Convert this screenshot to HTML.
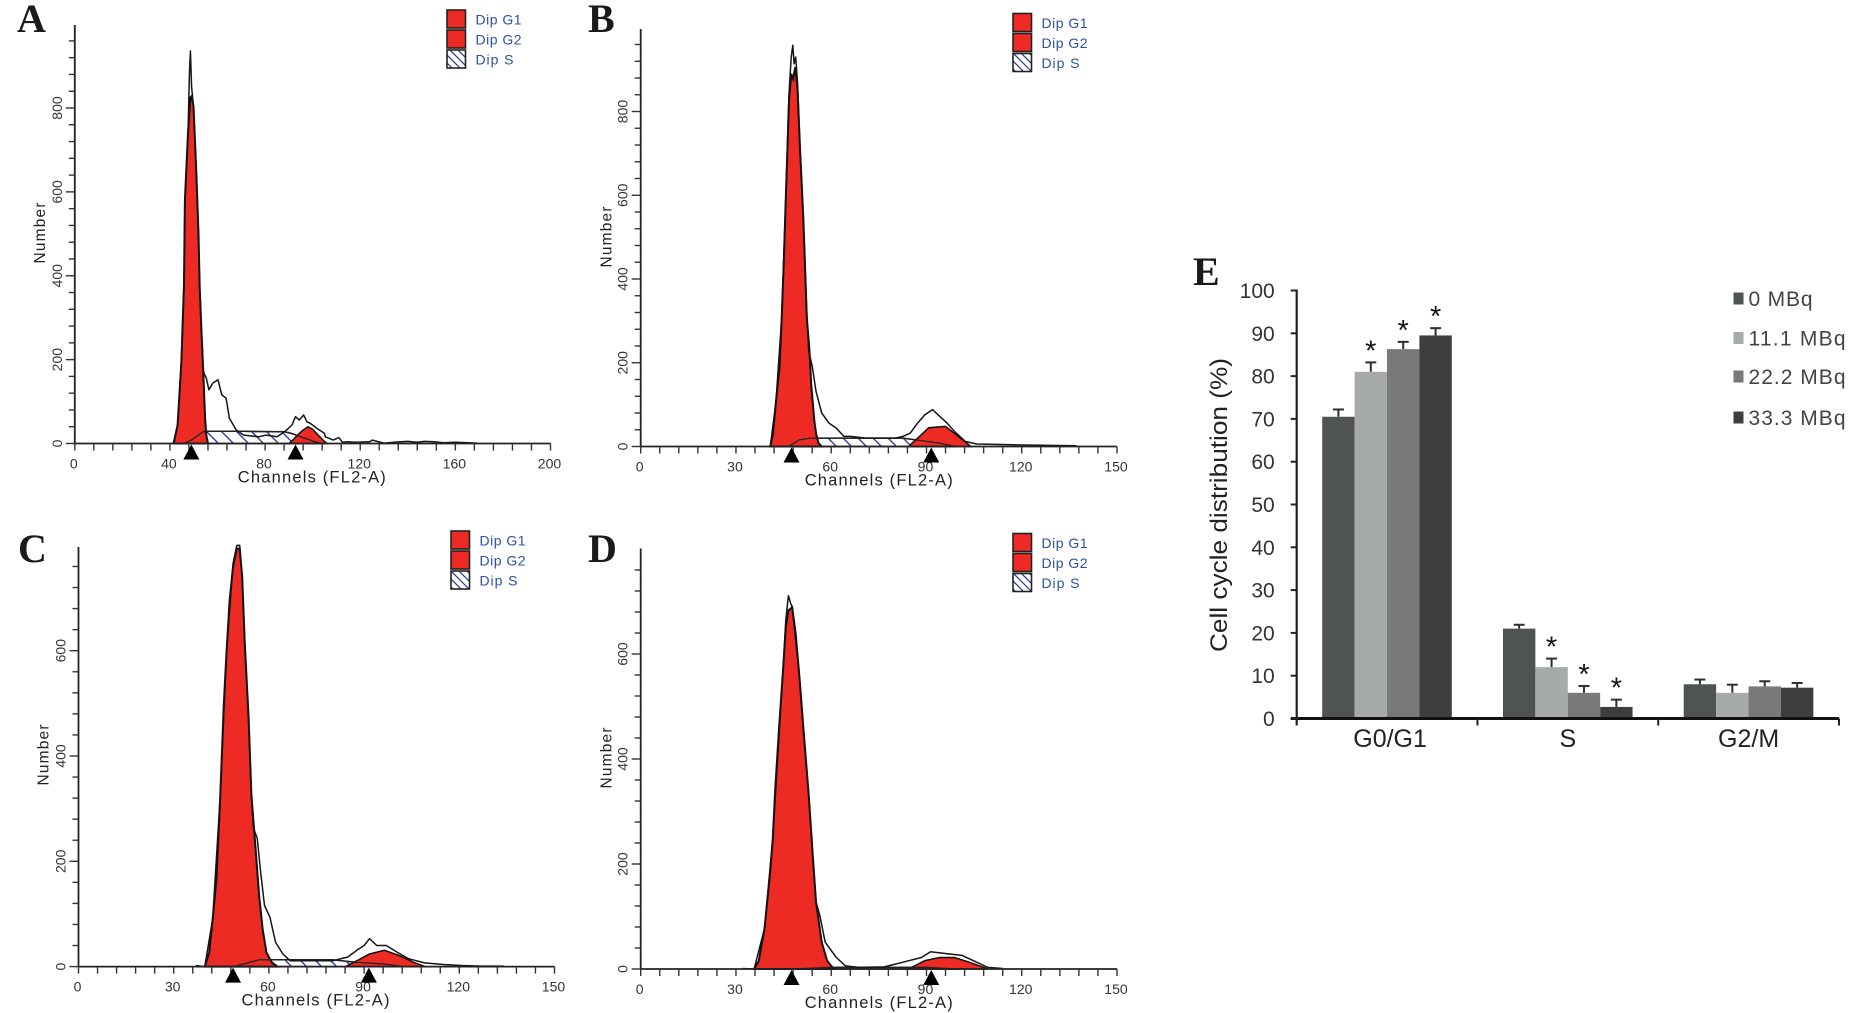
<!DOCTYPE html>
<html lang="en">
<head>
<meta charset="utf-8">
<title>Cell cycle distribution</title>
<style>
html,body{margin:0;padding:0;background:#fff;}
svg{display:block;}
text{font-family:"Liberation Sans",sans-serif;}
.letter{font-family:"Liberation Serif",serif;font-weight:bold;font-size:40px;fill:#1a1a1a;}
</style>
</head>
<body>
<svg id="figure" xmlns="http://www.w3.org/2000/svg" width="1859" height="1013" viewBox="0 0 1859 1013">
<defs>
<pattern id="hatch" patternUnits="userSpaceOnUse" width="15" height="15">
<rect width="15" height="15" fill="#fff"/>
<path d="M-3,-3 L18,18 M-3,12 L3,18 M12,-3 L18,3" stroke="#2c3f9e" stroke-width="1.4" fill="none"/>
</pattern>
<pattern id="hatchKey" patternUnits="userSpaceOnUse" width="8" height="8">
<rect width="8" height="8" fill="#fff"/>
<path d="M-2,-2 L10,10 M-2,6 L2,10 M6,-2 L10,2" stroke="#2c3f9e" stroke-width="1.3" fill="none"/>
</pattern>
</defs>
<text class="letter" x="17" y="32">A</text>
<text class="letter" x="588" y="32">B</text>
<text class="letter" x="18" y="562">C</text>
<text class="letter" x="588" y="562">D</text>
<text class="letter" x="1193" y="285">E</text>
</svg>
<script>
/* Histogram data: channel (x) and event count (y) */
const aG1Channels=[41.4,41.7,43.2,44.8,45.9,46.3,47.6,48.6,49.1,49.9,51,52,52.5,53.3,54.1,54.8,55.3,56];
const aG1Counts=[0,4,44,196,380,580,740,825,828,804,660,500,372,260,156,60,20,0];
const aG2Channels=[90,92,94,96,98,100,102,104,106];
const aG2Counts=[0,10,22,32,40,34,22,10,0];
const aSChannels=[46,49,52,54,55.5,70,88,91,96,101,104];
const aSCounts=[0,8,20,28,29,29,28,24,14,4,0];
const aTotalChannels=[41.4,43.2,44.8,45.9,46.3,47.6,48.2,48.6,49.1,49.9,51,52,52.5,53.3,54.1,55.3,56.4,58,60.2,61.8,63.6,65,67.9,71,77.3,80.4,85,88.2,91.3,92.8,94.4,96.2,97.6,99,101.8,105,105.3,108.7,111,112.5,115,118,124,125,130,137,140,144,147,151,155,160,169];
const aTotalCounts=[0,44,196,380,580,740,880,936,850,804,660,500,372,260,170,156,128,144,152,116,108,60,32,20,16,20,16,28,44,64,56,68,52,48,36,24,16,8,14,3,4,3,4,8,1,4,5,3,5,4,2,3,1];
const bG1Channels=[40.8,41.6,42.6,43.7,44.4,45,45.6,46.2,46.7,47.4,48,48.7,49.4,50.2,51.2,52.3,53.1,53.7,54.7,55.3,56,57];
const bG1Counts=[0,28,108,188,307,427,571,707,826,890,878,906,850,707,547,307,235,148,60,28,8,0];
const bG2Channels=[84.3,87.8,90.7,96,100,104];
const bG2Counts=[0,24,45,48,24,0];
const bSChannels=[46.5,50,53.5,70,82.6,94,99];
const bSCounts=[0,16,20,20,20,8,0];
const bTotalChannels=[40.8,42.6,44.4,45.6,46.7,47.4,47.9,48.3,48.8,49.4,50.2,51.2,52.3,52.9,54,55.2,57,59.3,61.6,64,66,70.9,80.2,82.6,84.9,87.2,89.5,91.9,94.2,96.5,98.8,102.3,105.8,117.4,137.2];
const bTotalCounts=[0,108,307,571,842,930,958,914,930,866,707,547,320,228,192,132,80,56,44,24,24,20,20,24,32,56,76,88,72,56,36,12,6,4,2];
const cG1Channels=[39.8,41.2,42.3,43.5,44.7,45.8,46.6,47.6,48.7,49.9,50.8,51.6,52.4,53.6,54.5,55.7,56.9,58,59.2,60.9,62.7];
const cG1Counts=[0,27,91,167,326,498,593,695,759,794,794,740,613,473,326,231,135,72,27,8,0];
const cG2Channels=[84.2,88.3,91.7,96.4,101,105.7,109.2];
const cG2Counts=[0,13,24,31,21,8,0];
const cSChannels=[48.7,52,56.9,70,80,87.7,96.4,102.5];
const cSCounts=[0,5,13,13,13,8,5,0];
const cTotalChannels=[37,39.8,42.3,44.7,46.6,48.7,49.9,50.8,51.6,52.4,53.6,54.5,55.1,56.3,57.4,58.6,60.3,62.1,64.4,66.7,72,80,84.8,87.7,90,91.7,94,97,100.5,104,109,115,120.8,127,134];
const cTotalCounts=[2,0,91,326,593,765,800,800,740,613,473,326,263,244,180,116,94,46,24,11,11,11,18,31,40,53,40,40,27,15,7,4,2,1,1];
const dG1Channels=[35.7,37.2,39,40.7,41.6,42.4,43.6,44.8,45.7,46.5,47.7,48.8,50,51.2,52.9,54.1,55.2,57,58.7,60.2,61.6];
const dG1Counts=[0,16,77,179,249,345,460,568,651,683,689,638,555,460,332,223,128,51,16,4,0];
const dG2Channels=[84.3,89.5,94.2,98.8,103.5,109.3];
const dG2Counts=[0,16,22,22,13,0];
const dSChannels=[47,60,80,90,100];
const dSCounts=[0,3,3,3,0];
const dTotalChannels=[32,35.7,39,41.6,44.8,45.7,46.5,47.2,47.7,50,52.9,55.2,56.4,58.1,61.6,64.5,68.6,76.7,82.6,88.4,91.3,96.5,101.2,104.7,109.3,114];
const dTotalCounts=[1,0,77,249,568,665,711,697,689,555,332,128,102,51,22,6,3,4,13,22,33,29,26,16,3,1];
/* Axis tick labels */
const aXTicks=[0,40,80,120,160,200];
const sharedXTicks=[0,30,60,90,120,150];
const tallYTicks=[0,200,400,600,800];
const shortYTicks=[0,200,400,600];
/* G1 / G2 mean channels marked by the triangles */
const aPeaks=[49,92.8];
const bPeaks=[47.5,91.5];
const cPeaks=[48.7,91.5];
const dPeaks=[47.5,91.5];
/* Bar chart data */
const barCategories=['G0/G1','S','G2/M'];
const barSeriesNames=['0 MBq','11.1 MBq','22.2 MBq','33.3 MBq'];
const barValues0=[70.5,21,8];
const barValues11=[81,12,6];
const barValues22=[86.3,6,7.5];
const barValues33=[89.5,2.7,7.2];
const barErrors0=[1.7,0.9,1.1];
const barErrors11=[2.2,2,1.9];
const barErrors22=[1.7,1.6,1.2];
const barErrors33=[1.7,1.7,1.1];
const barSignificant11=[1,1,0];
const barSignificant22=[1,1,0];
const barSignificant33=[1,1,0];
const barYTicks=[0,10,20,30,40,50,60,70,80,90,100];

const NS='http://www.w3.org/2000/svg';
const fig=document.getElementById('figure');
function mk(tag,attrs,parent,txt){
  const el=document.createElementNS(NS,tag);
  for(const k in attrs){el.setAttribute(k,attrs[k]);}
  if(txt!==undefined){el.textContent=txt;}
  parent.appendChild(el);
  return el;
}
function areaPath(xs,ys,sx,sy){
  let d='M'+sx(xs[0]).toFixed(1)+','+sy(0).toFixed(1);
  for(let i=0;i<xs.length;i++){d+=' L'+sx(xs[i]).toFixed(1)+','+sy(ys[i]).toFixed(1);}
  d+=' L'+sx(xs[xs.length-1]).toFixed(1)+','+sy(0).toFixed(1)+' Z';
  return d;
}
function linePath(xs,ys,sx,sy){
  let d='';
  for(let i=0;i<xs.length;i++){d+=(i?' L':'M')+sx(xs[i]).toFixed(1)+','+sy(ys[i]).toFixed(1);}
  return d;
}
function drawPanel(key,L,d){
  const g=mk('g',{},fig);
  
  
  const sx=function(c){return L.x0+(c/L.xMax)*(L.x1-L.x0);};
  const sy=function(v){return L.y0-(v/L.yRef)*(L.y0-L.yRefPx);};
  /* S phase hatch */
  const s=mk('path',{d:areaPath(d.sx,d.sy,sx,sy),fill:'url(#hatch)',stroke:'#111','stroke-width':1.5},g);
  
  
  /* G2 */
  const g2=mk('path',{d:areaPath(d.g2x,d.g2y,sx,sy),fill:'#ee2a24',stroke:'#111','stroke-width':1.5},g);
  
  
  /* G1 */
  const g1=mk('path',{d:areaPath(d.g1x,d.g1y,sx,sy),fill:'#ee2a24',stroke:'#111','stroke-width':2},g);
  
  
  /* S curve redrawn over red */
  const sl=mk('path',{d:linePath(d.sx,d.sy,sx,sy),fill:'none',stroke:'#222','stroke-width':1.3},g);
  
  
  /* Histogram outline */
  const t=mk('path',{d:linePath(d.tx,d.ty,sx,sy),fill:'none',stroke:'#151515','stroke-width':1.5,'stroke-linejoin':'round'},g);
  
  
  /* Axes */
  const ax=mk('line',{x1:L.x0,x2:L.x1,y1:L.y0,y2:L.y0,stroke:'#222','stroke-width':1.8},g);
  
  
  const ay=mk('line',{x1:L.x0,x2:L.x0,y1:L.y0+1,y2:L.top,stroke:'#222','stroke-width':1.8},g);
  
  
  const xStep=d.xTicks[1]-d.xTicks[0];
  for(let v=0;v<=L.xMax+0.001;v+=xStep/5){
    const tk=mk('line',{x1:sx(v),x2:sx(v),y1:L.y0,y2:L.y0+7,stroke:'#333','stroke-width':1.4},g);
    
    
  }
  const yStep=d.yTicks[1]-d.yTicks[0];
  for(let v=0;sy(v)>=L.top+4;v+=yStep/5){
    const major=Math.abs(v/yStep-Math.round(v/yStep))<0.001;
    const tk=mk('line',{x1:L.x0-(major?9:6),x2:L.x0,y1:sy(v),y2:sy(v),stroke:'#333','stroke-width':1.4},g);
    
    
  }
  d.xTicks.forEach(function(v){
    const tl=mk('text',{x:sx(v)-1,y:L.y0+25,'text-anchor':'middle','font-size':13.5,fill:'#333',textLength:String(v).length*7.8,lengthAdjust:'spacingAndGlyphs'},g,String(v));
    
    
  });
  d.yTicks.forEach(function(v){
    const px=L.x0-13, py=sy(v);
    const tl=mk('text',{x:px,y:py,'text-anchor':'middle','font-size':13.5,fill:'#333',textLength:String(v).length*7.8,lengthAdjust:'spacingAndGlyphs',transform:'rotate(-90 '+px+' '+py+')'},g,String(v));
    
    
  });
  const xt=mk('text',{x:L.x0+L.xTitleDx,y:L.y0+39,'font-size':16.5,fill:'#222',textLength:148,lengthAdjust:'spacing'},g,'Channels (FL2-A)');
  
  
  const ytx=L.x0+L.yTitleDx, yty=L.yTitleY;
  const yt=mk('text',{x:ytx,y:yty,'text-anchor':'middle','font-size':15.5,fill:'#222',textLength:61,lengthAdjust:'spacing',transform:'rotate(-90 '+ytx+' '+yty+')'},g,'Number');
  
  
  /* Peak triangles */
  d.peaks.forEach(function(c){
    const p=mk('polygon',{points:(sx(c)-8)+','+(L.y0+16)+' '+(sx(c)+8)+','+(L.y0+16)+' '+sx(c)+','+(L.y0+1),fill:'#000'},g);
    
    
  });
  /* Legend */
  const names=['Dip G1','Dip G2','Dip S'];
  names.forEach(function(n,i){
    const ky=L.legY+i*20;
    const r=mk('rect',{x:L.legX,y:ky,width:18.5,height:18,fill:i===2?'url(#hatchKey)':'#ee2a24',stroke:'#222','stroke-width':1.6},g);
    
    
    const lt=mk('text',{x:L.legX+28.5,y:ky+14.5,'font-size':14,fill:'#2b50a5',textLength:n==='Dip S'?38:46,lengthAdjust:'spacing'},g,n);
    
    
  });
}
drawPanel('a',{x0:74.8,x1:550.5,xMax:200,y0:443.5,yRef:800,yRefPx:108,top:25,legX:447,legY:10,xTitleDx:163,yTitleDx:-30,yTitleY:233},
 {g1x:aG1Channels,g1y:aG1Counts,g2x:aG2Channels,g2y:aG2Counts,sx:aSChannels,sy:aSCounts,tx:aTotalChannels,ty:aTotalCounts,xTicks:aXTicks,yTicks:tallYTicks,peaks:aPeaks});
drawPanel('b',{x0:640.7,x1:1117,xMax:150,y0:446.5,yRef:800,yRefPx:111.5,top:29,legX:1013,legY:13.5,xTitleDx:164,yTitleDx:-29,yTitleY:237},
 {g1x:bG1Channels,g1y:bG1Counts,g2x:bG2Channels,g2y:bG2Counts,sx:bSChannels,sy:bSCounts,tx:bTotalChannels,ty:bTotalCounts,xTicks:sharedXTicks,yTicks:tallYTicks,peaks:bPeaks});
drawPanel('c',{x0:78.5,x1:554.5,xMax:150,y0:966.6,yRef:600,yRefPx:650.7,top:547,legX:451,legY:531,xTitleDx:163,yTitleDx:-30,yTitleY:755},
 {g1x:cG1Channels,g1y:cG1Counts,g2x:cG2Channels,g2y:cG2Counts,sx:cSChannels,sy:cSCounts,tx:cTotalChannels,ty:cTotalCounts,xTicks:sharedXTicks,yTicks:shortYTicks,peaks:cPeaks});
drawPanel('d',{x0:640.7,x1:1117,xMax:150,y0:969,yRef:600,yRefPx:654,top:548.5,legX:1013,legY:533.5,xTitleDx:164,yTitleDx:-29,yTitleY:758},
 {g1x:dG1Channels,g1y:dG1Counts,g2x:dG2Channels,g2y:dG2Counts,sx:dSChannels,sy:dSCounts,tx:dTotalChannels,ty:dTotalCounts,xTicks:sharedXTicks,yTicks:shortYTicks,peaks:dPeaks});

/* Bar chart E */
(function(){
  const g=mk('g',{},fig);
  
  
  const x0=1296.7,x1=1839,y0=718.5,y100=290.5;
  const sy=function(v){return y0-(v/100)*(y0-y100);};
  const band=(x1-x0)/barCategories.length;
  const pad=25.5,bw=32.4;
  const colors=['#4f5352','#a6aaa9','#787a7a','#3d3f3f'];
  const series=[barValues0,barValues11,barValues22,barValues33];
  const errors=[barErrors0,barErrors11,barErrors22,barErrors33];
  const flags=[null,barSignificant11,barSignificant22,barSignificant33];
  barCategories.forEach(function(cat,ci){
    series.forEach(function(vals,si){
      const bx=x0+ci*band+pad+si*bw;
      const cx=bx+bw/2;
      const top=sy(vals[ci]);
      const errTop=sy(vals[ci]+errors[si][ci]);
      const st=mk('line',{x1:cx,x2:cx,y1:top,y2:errTop,stroke:'#2e2e2e','stroke-width':2},g);
      
      
      const cp=mk('line',{x1:cx-5.5,x2:cx+5.5,y1:errTop,y2:errTop,stroke:'#2e2e2e','stroke-width':2},g);
      
      
      const r=mk('rect',{x:bx,y:top,width:bw,height:y0-top,fill:colors[si]},g);
      
      
      if(flags[si]&&flags[si][ci]){
        const a=mk('text',{x:cx,y:errTop-2,'text-anchor':'middle','font-size':29,fill:'#111'},g,'*');
        
        
      }
    });
    const cl=mk('text',{x:x0+ci*band+band/2+(ci===0?3:0),y:747,'text-anchor':'middle','font-size':25,fill:'#222'},g,cat);
    
    
  });
  const ax=mk('line',{x1:x0-6,x2:x1,y1:y0,y2:y0,stroke:'#111','stroke-width':3},g);
  
  
  const ay=mk('line',{x1:x0,x2:x0,y1:y100-1,y2:y0+7,stroke:'#222','stroke-width':2.2},g);
  
  
  for(let i=1;i<=barCategories.length;i++){
    const tk=mk('line',{x1:x0+i*band,x2:x0+i*band,y1:y0,y2:y0+7,stroke:'#222','stroke-width':2},g);
    
    
  }
  barYTicks.forEach(function(v){
    const tk=mk('line',{x1:x0-6,x2:x0,y1:sy(v),y2:sy(v),stroke:'#222','stroke-width':2},g);
    
    
    const tl=mk('text',{x:x0-22,y:sy(v)+7.5,'text-anchor':'end','font-size':21,fill:'#333'},g,String(v));
    
    
  });
  const ytx=1227,yty=505;
  const yt=mk('text',{x:ytx,y:yty,'text-anchor':'middle','font-size':24,fill:'#222',textLength:294,lengthAdjust:'spacingAndGlyphs',transform:'rotate(-90 '+ytx+' '+yty+')'},g,'Cell cycle distribution (%)');
  
  
  const legendY=[298.5,338,376.5,417.5];
  const legendW=[64,97,97,97];
  barSeriesNames.forEach(function(n,i){
    const r=mk('rect',{x:1733.5,y:legendY[i]-6,width:10,height:12,fill:colors[i]},g);
    
    
    const t=mk('text',{x:1748.5,y:legendY[i]+7.5,'font-size':21,fill:'#444',textLength:legendW[i],lengthAdjust:'spacing'},g,n);
    
    
  });
})();
</script>
</body>
</html>
